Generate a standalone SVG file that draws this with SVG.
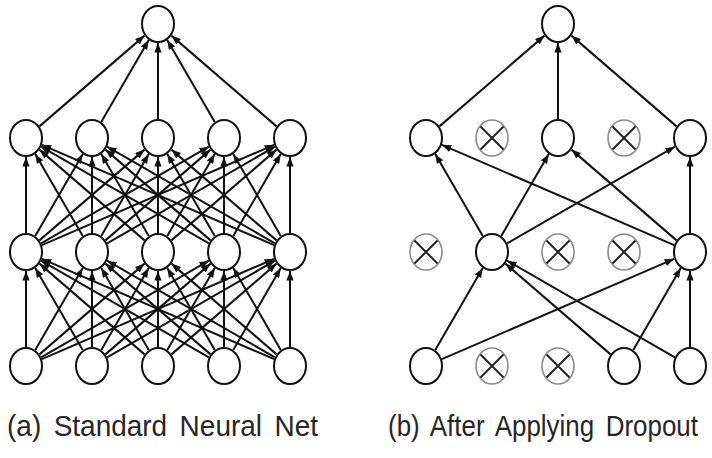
<svg xmlns="http://www.w3.org/2000/svg" width="712" height="458" viewBox="0 0 712 458">
<style>
.node{fill:#fff;stroke:#111;stroke-width:2}
.drop{fill:#fff;stroke:#8a8a8a;stroke-width:1.6}
.x{stroke:#222;stroke-width:2;stroke-linecap:butt}
.e{stroke:#111;stroke-width:2;fill:none;marker-end:url(#ah)}
.lbl{font-family:"Liberation Sans",Arial,sans-serif;font-size:30px;word-spacing:5px;fill:#262626}
</style>
<defs>
<marker id="ah" markerUnits="userSpaceOnUse" markerWidth="10" markerHeight="8" refX="9.5" refY="3.6" orient="auto">
<path d="M0,0 L9.5,3.6 L0,7.2 z" fill="#111"/>
</marker>
</defs>
<rect width="712" height="458" fill="#fff"/>
<g id="connectors">
<!-- (a) input -> hidden1 -->
<line class="e" x1="26" y1="347" x2="26" y2="271"/>
<line class="e" x1="35.24" y1="350.05" x2="82.76" y2="267.95"/>
<line class="e" x1="39.45" y1="354.38" x2="144.55" y2="263.62"/>
<line class="e" x1="41.11" y1="357.3" x2="208.89" y2="260.7"/>
<line class="e" x1="41.86" y1="359.15" x2="274.14" y2="258.85"/>
<line class="e" x1="82.76" y1="350.05" x2="35.24" y2="267.95"/>
<line class="e" x1="92" y1="347" x2="92" y2="271"/>
<line class="e" x1="101.24" y1="350.05" x2="148.76" y2="267.95"/>
<line class="e" x1="105.45" y1="354.38" x2="210.55" y2="263.62"/>
<line class="e" x1="107.11" y1="357.3" x2="274.89" y2="260.7"/>
<line class="e" x1="144.55" y1="354.38" x2="39.45" y2="263.62"/>
<line class="e" x1="148.76" y1="350.05" x2="101.24" y2="267.95"/>
<line class="e" x1="158" y1="347" x2="158" y2="271"/>
<line class="e" x1="167.24" y1="350.05" x2="214.76" y2="267.95"/>
<line class="e" x1="171.45" y1="354.38" x2="276.55" y2="263.62"/>
<line class="e" x1="208.89" y1="357.3" x2="41.11" y2="260.7"/>
<line class="e" x1="210.55" y1="354.38" x2="105.45" y2="263.62"/>
<line class="e" x1="214.76" y1="350.05" x2="167.24" y2="267.95"/>
<line class="e" x1="224" y1="347" x2="224" y2="271"/>
<line class="e" x1="233.24" y1="350.05" x2="280.76" y2="267.95"/>
<line class="e" x1="274.14" y1="359.15" x2="41.86" y2="258.85"/>
<line class="e" x1="274.89" y1="357.3" x2="107.11" y2="260.7"/>
<line class="e" x1="276.55" y1="354.38" x2="171.45" y2="263.62"/>
<line class="e" x1="280.76" y1="350.05" x2="233.24" y2="267.95"/>
<line class="e" x1="290" y1="347" x2="290" y2="271"/>
<!-- (a) hidden1 -> hidden2 -->
<line class="e" x1="26" y1="233" x2="26" y2="157"/>
<line class="e" x1="35.24" y1="236.05" x2="82.76" y2="153.95"/>
<line class="e" x1="39.45" y1="240.38" x2="144.55" y2="149.62"/>
<line class="e" x1="41.11" y1="243.3" x2="208.89" y2="146.7"/>
<line class="e" x1="41.86" y1="245.15" x2="274.14" y2="144.85"/>
<line class="e" x1="82.76" y1="236.05" x2="35.24" y2="153.95"/>
<line class="e" x1="92" y1="233" x2="92" y2="157"/>
<line class="e" x1="101.24" y1="236.05" x2="148.76" y2="153.95"/>
<line class="e" x1="105.45" y1="240.38" x2="210.55" y2="149.62"/>
<line class="e" x1="107.11" y1="243.3" x2="274.89" y2="146.7"/>
<line class="e" x1="144.55" y1="240.38" x2="39.45" y2="149.62"/>
<line class="e" x1="148.76" y1="236.05" x2="101.24" y2="153.95"/>
<line class="e" x1="158" y1="233" x2="158" y2="157"/>
<line class="e" x1="167.24" y1="236.05" x2="214.76" y2="153.95"/>
<line class="e" x1="171.45" y1="240.38" x2="276.55" y2="149.62"/>
<line class="e" x1="208.89" y1="243.3" x2="41.11" y2="146.7"/>
<line class="e" x1="210.55" y1="240.38" x2="105.45" y2="149.62"/>
<line class="e" x1="214.76" y1="236.05" x2="167.24" y2="153.95"/>
<line class="e" x1="224" y1="233" x2="224" y2="157"/>
<line class="e" x1="233.24" y1="236.05" x2="280.76" y2="153.95"/>
<line class="e" x1="274.14" y1="245.15" x2="41.86" y2="144.85"/>
<line class="e" x1="274.89" y1="243.3" x2="107.11" y2="146.7"/>
<line class="e" x1="276.55" y1="240.38" x2="171.45" y2="149.62"/>
<line class="e" x1="280.76" y1="236.05" x2="233.24" y2="153.95"/>
<line class="e" x1="290" y1="233" x2="290" y2="157"/>
<!-- (a) hidden2 -> output -->
<line class="e" x1="39.45" y1="126.38" x2="144.55" y2="35.62"/>
<line class="e" x1="101.24" y1="122.05" x2="148.76" y2="39.95"/>
<line class="e" x1="158" y1="119" x2="158" y2="43"/>
<line class="e" x1="214.76" y1="122.05" x2="167.24" y2="39.95"/>
<line class="e" x1="276.55" y1="126.38" x2="171.45" y2="35.62"/>
<!-- (b) input -> hidden1 -->
<line class="e" x1="435.24" y1="350.05" x2="482.76" y2="267.95"/>
<line class="e" x1="441.86" y1="359.15" x2="674.14" y2="258.85"/>
<line class="e" x1="610.55" y1="354.38" x2="505.45" y2="263.62"/>
<line class="e" x1="633.24" y1="350.05" x2="680.76" y2="267.95"/>
<line class="e" x1="674.89" y1="357.3" x2="507.11" y2="260.7"/>
<line class="e" x1="690" y1="347" x2="690" y2="271"/>
<!-- (b) hidden1 -> hidden2 -->
<line class="e" x1="482.76" y1="236.05" x2="435.24" y2="153.95"/>
<line class="e" x1="501.24" y1="236.05" x2="548.76" y2="153.95"/>
<line class="e" x1="507.11" y1="243.3" x2="674.89" y2="146.7"/>
<line class="e" x1="674.14" y1="245.15" x2="441.86" y2="144.85"/>
<line class="e" x1="676.55" y1="240.38" x2="571.45" y2="149.62"/>
<line class="e" x1="690" y1="233" x2="690" y2="157"/>
<!-- (b) hidden2 -> output -->
<line class="e" x1="439.45" y1="126.38" x2="544.55" y2="35.62"/>
<line class="e" x1="558" y1="119" x2="558" y2="43"/>
<line class="e" x1="676.55" y1="126.38" x2="571.45" y2="35.62"/>
</g>
<!-- (a) nodes -->
<g id="a-out"><ellipse class="node" cx="158" cy="24" rx="16" ry="18"/></g>
<g id="a-h2-1"><ellipse class="node" cx="26" cy="138" rx="16" ry="18"/></g>
<g id="a-h2-2"><ellipse class="node" cx="92" cy="138" rx="16" ry="18"/></g>
<g id="a-h2-3"><ellipse class="node" cx="158" cy="138" rx="16" ry="18"/></g>
<g id="a-h2-4"><ellipse class="node" cx="224" cy="138" rx="16" ry="18"/></g>
<g id="a-h2-5"><ellipse class="node" cx="290" cy="138" rx="16" ry="18"/></g>
<g id="a-h1-1"><ellipse class="node" cx="26" cy="252" rx="16" ry="18"/></g>
<g id="a-h1-2"><ellipse class="node" cx="92" cy="252" rx="16" ry="18"/></g>
<g id="a-h1-3"><ellipse class="node" cx="158" cy="252" rx="16" ry="18"/></g>
<g id="a-h1-4"><ellipse class="node" cx="224" cy="252" rx="16" ry="18"/></g>
<g id="a-h1-5"><ellipse class="node" cx="290" cy="252" rx="16" ry="18"/></g>
<g id="a-in-1"><ellipse class="node" cx="26" cy="366" rx="16" ry="18"/></g>
<g id="a-in-2"><ellipse class="node" cx="92" cy="366" rx="16" ry="18"/></g>
<g id="a-in-3"><ellipse class="node" cx="158" cy="366" rx="16" ry="18"/></g>
<g id="a-in-4"><ellipse class="node" cx="224" cy="366" rx="16" ry="18"/></g>
<g id="a-in-5"><ellipse class="node" cx="290" cy="366" rx="16" ry="18"/></g>
<!-- (b) nodes -->
<g id="b-out"><ellipse class="node" cx="558" cy="24" rx="16" ry="18"/></g>
<g id="b-h2-1"><ellipse class="node" cx="426" cy="138" rx="16" ry="18"/></g>
<g id="b-h2-2"><ellipse class="drop" cx="492" cy="138" rx="16" ry="18"/><path class="x" d="M480.5,126.5 L503.5,149.5 M503.5,126.5 L480.5,149.5"/></g>
<g id="b-h2-3"><ellipse class="node" cx="558" cy="138" rx="16" ry="18"/></g>
<g id="b-h2-4"><ellipse class="drop" cx="624" cy="138" rx="16" ry="18"/><path class="x" d="M612.5,126.5 L635.5,149.5 M635.5,126.5 L612.5,149.5"/></g>
<g id="b-h2-5"><ellipse class="node" cx="690" cy="138" rx="16" ry="18"/></g>
<g id="b-h1-1"><ellipse class="drop" cx="426" cy="252" rx="16" ry="18"/><path class="x" d="M414.5,240.5 L437.5,263.5 M437.5,240.5 L414.5,263.5"/></g>
<g id="b-h1-2"><ellipse class="node" cx="492" cy="252" rx="16" ry="18"/></g>
<g id="b-h1-3"><ellipse class="drop" cx="558" cy="252" rx="16" ry="18"/><path class="x" d="M546.5,240.5 L569.5,263.5 M569.5,240.5 L546.5,263.5"/></g>
<g id="b-h1-4"><ellipse class="drop" cx="624" cy="252" rx="16" ry="18"/><path class="x" d="M612.5,240.5 L635.5,263.5 M635.5,240.5 L612.5,263.5"/></g>
<g id="b-h1-5"><ellipse class="node" cx="690" cy="252" rx="16" ry="18"/></g>
<g id="b-in-1"><ellipse class="node" cx="426" cy="366" rx="16" ry="18"/></g>
<g id="b-in-2"><ellipse class="drop" cx="492" cy="366" rx="16" ry="18"/><path class="x" d="M480.5,354.5 L503.5,377.5 M503.5,354.5 L480.5,377.5"/></g>
<g id="b-in-3"><ellipse class="drop" cx="558" cy="366" rx="16" ry="18"/><path class="x" d="M546.5,354.5 L569.5,377.5 M569.5,354.5 L546.5,377.5"/></g>
<g id="b-in-4"><ellipse class="node" cx="624" cy="366" rx="16" ry="18"/></g>
<g id="b-in-5"><ellipse class="node" cx="690" cy="366" rx="16" ry="18"/></g>
<g id="captions">
<text class="lbl" transform="translate(7,436) scale(0.933,1)">(a) Standard Neural Net</text>
<text class="lbl" transform="translate(388,436) scale(0.865,1)">(b) After Applying Dropout</text>
</g>
</svg>
